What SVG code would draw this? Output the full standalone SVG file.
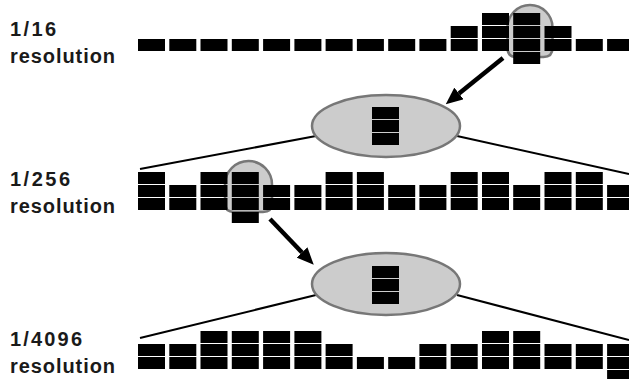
<svg xmlns="http://www.w3.org/2000/svg" width="629" height="379" viewBox="0 0 629 379">
<defs>
<style>
.b{fill:#000}
.lbl{font-family:"Liberation Sans",Arial,sans-serif;font-weight:bold;font-size:20px;fill:#1a1a1a}
.mag{fill:#cccccc;stroke:#777777;stroke-width:2.5}
.thin{stroke:#000;stroke-width:2;fill:none}
.arr{stroke:#000;stroke-width:4.5;fill:none}
</style>
<marker id="ah" markerUnits="userSpaceOnUse" markerWidth="17" markerHeight="15" refX="0" refY="7.5" orient="auto" viewBox="0 0 17 15">
<path d="M0,0 L17,7.5 L0,15 Z" fill="#000"/>
</marker>
</defs>
<rect width="629" height="379" fill="#fff"/>

<g id="labels">
<text class="lbl" x="10" y="36" textLength="46" lengthAdjust="spacing">1/16</text>
<text class="lbl" x="10" y="62.5" textLength="105" lengthAdjust="spacing">resolution</text>
<text class="lbl" x="10" y="186" textLength="60" lengthAdjust="spacing">1/256</text>
<text class="lbl" x="10" y="212.5" textLength="105" lengthAdjust="spacing">resolution</text>
<text class="lbl" x="10" y="346" textLength="72" lengthAdjust="spacing">1/4096</text>
<text class="lbl" x="10" y="372.5" textLength="105" lengthAdjust="spacing">resolution</text>
</g>

<g id="connectors">
<line class="thin" x1="140" y1="169" x2="316" y2="136"/>
<line class="thin" x1="457" y1="136" x2="629" y2="174"/>
<line class="thin" x1="140" y1="338" x2="316" y2="295"/>
<line class="thin" x1="457" y1="295" x2="629" y2="340"/>
<line class="arr" x1="503" y1="58" x2="459" y2="93.5" marker-end="url(#ah)"/>
<line class="arr" x1="270" y1="219" x2="302" y2="252.5" marker-end="url(#ah)"/>
</g>

<g id="row-1-16">
<path class="mag" d="M507.5,27.5 A22.5,22.5 0 0 1 552.5,27.5 L552.5,48 Q552.5,57 543.5,57 L516.5,57 Q507.5,57 507.5,48 Z"/>
<g class="b">
<rect x="138" y="39" width="27" height="12"/>
<rect x="169.3" y="39" width="27" height="12"/>
<rect x="200.5" y="39" width="27" height="12"/>
<rect x="231.8" y="39" width="27" height="12"/>
<rect x="263.1" y="39" width="27" height="12"/>
<rect x="294.4" y="39" width="27" height="12"/>
<rect x="325.6" y="39" width="27" height="12"/>
<rect x="356.9" y="39" width="27" height="12"/>
<rect x="388.2" y="39" width="27" height="12"/>
<rect x="419.4" y="39" width="27" height="12"/>
<rect x="450.7" y="39" width="27" height="12"/>
<rect x="482" y="39" width="27" height="12"/>
<rect x="513.2" y="39" width="27" height="12"/>
<rect x="544.5" y="39" width="27" height="12"/>
<rect x="575.8" y="39" width="27" height="12"/>
<rect x="607.1" y="39" width="27" height="12"/>
<rect x="450.7" y="26" width="27" height="12"/>
<rect x="482" y="26" width="27" height="12"/>
<rect x="513.2" y="26" width="27" height="12"/>
<rect x="544.5" y="26" width="27" height="12"/>
<rect x="482" y="13" width="27" height="12"/>
<rect x="513.2" y="13" width="27" height="12"/>
<rect x="513.2" y="52" width="27" height="12"/>
</g>
</g>

<g id="zoom-1">
<ellipse class="mag" cx="386" cy="126" rx="74" ry="31"/>
<rect class="b" x="372" y="107" width="27" height="12"/>
<rect class="b" x="372" y="120" width="27" height="12"/>
<rect class="b" x="372" y="133" width="27" height="12"/>
</g>

<g id="row-1-256">
<path class="mag" d="M225,184.5 A23.5,23.5 0 0 1 272,184.5 L272,203 Q272,212 263,212 L234,212 Q225,212 225,203 Z"/>
<g class="b">
<rect x="138" y="198" width="27" height="12"/>
<rect x="169.3" y="198" width="27" height="12"/>
<rect x="200.5" y="198" width="27" height="12"/>
<rect x="231.8" y="198" width="27" height="12"/>
<rect x="263.1" y="198" width="27" height="12"/>
<rect x="294.4" y="198" width="27" height="12"/>
<rect x="325.6" y="198" width="27" height="12"/>
<rect x="356.9" y="198" width="27" height="12"/>
<rect x="388.2" y="198" width="27" height="12"/>
<rect x="419.4" y="198" width="27" height="12"/>
<rect x="450.7" y="198" width="27" height="12"/>
<rect x="482" y="198" width="27" height="12"/>
<rect x="513.2" y="198" width="27" height="12"/>
<rect x="544.5" y="198" width="27" height="12"/>
<rect x="575.8" y="198" width="27" height="12"/>
<rect x="607.1" y="198" width="27" height="12"/>
<rect x="138" y="185" width="27" height="12"/>
<rect x="169.3" y="185" width="27" height="12"/>
<rect x="200.5" y="185" width="27" height="12"/>
<rect x="231.8" y="185" width="27" height="12"/>
<rect x="263.1" y="185" width="27" height="12"/>
<rect x="294.4" y="185" width="27" height="12"/>
<rect x="325.6" y="185" width="27" height="12"/>
<rect x="356.9" y="185" width="27" height="12"/>
<rect x="388.2" y="185" width="27" height="12"/>
<rect x="419.4" y="185" width="27" height="12"/>
<rect x="450.7" y="185" width="27" height="12"/>
<rect x="482" y="185" width="27" height="12"/>
<rect x="513.2" y="185" width="27" height="12"/>
<rect x="544.5" y="185" width="27" height="12"/>
<rect x="575.8" y="185" width="27" height="12"/>
<rect x="607.1" y="185" width="27" height="12"/>
<rect x="138" y="172" width="27" height="12"/>
<rect x="200.5" y="172" width="27" height="12"/>
<rect x="231.8" y="172" width="27" height="12"/>
<rect x="325.6" y="172" width="27" height="12"/>
<rect x="356.9" y="172" width="27" height="12"/>
<rect x="450.7" y="172" width="27" height="12"/>
<rect x="482" y="172" width="27" height="12"/>
<rect x="544.5" y="172" width="27" height="12"/>
<rect x="575.8" y="172" width="27" height="12"/>
<rect x="231.8" y="212" width="27" height="11"/>
</g>
</g>

<g id="zoom-2">
<ellipse class="mag" cx="386" cy="284" rx="74" ry="31"/>
<rect class="b" x="372" y="266" width="27" height="12"/>
<rect class="b" x="372" y="279" width="27" height="12"/>
<rect class="b" x="372" y="292" width="27" height="12"/>
</g>

<g id="row-1-4096">
<g class="b">
<rect x="138" y="357" width="27" height="12"/>
<rect x="169.3" y="357" width="27" height="12"/>
<rect x="200.5" y="357" width="27" height="12"/>
<rect x="231.8" y="357" width="27" height="12"/>
<rect x="263.1" y="357" width="27" height="12"/>
<rect x="294.4" y="357" width="27" height="12"/>
<rect x="325.6" y="357" width="27" height="12"/>
<rect x="356.9" y="357" width="27" height="12"/>
<rect x="388.2" y="357" width="27" height="12"/>
<rect x="419.4" y="357" width="27" height="12"/>
<rect x="450.7" y="357" width="27" height="12"/>
<rect x="482" y="357" width="27" height="12"/>
<rect x="513.2" y="357" width="27" height="12"/>
<rect x="544.5" y="357" width="27" height="12"/>
<rect x="575.8" y="357" width="27" height="12"/>
<rect x="607.1" y="357" width="27" height="12"/>
<rect x="138" y="344" width="27" height="12"/>
<rect x="169.3" y="344" width="27" height="12"/>
<rect x="200.5" y="344" width="27" height="12"/>
<rect x="231.8" y="344" width="27" height="12"/>
<rect x="263.1" y="344" width="27" height="12"/>
<rect x="294.4" y="344" width="27" height="12"/>
<rect x="325.6" y="344" width="27" height="12"/>
<rect x="419.4" y="344" width="27" height="12"/>
<rect x="450.7" y="344" width="27" height="12"/>
<rect x="482" y="344" width="27" height="12"/>
<rect x="513.2" y="344" width="27" height="12"/>
<rect x="544.5" y="344" width="27" height="12"/>
<rect x="575.8" y="344" width="27" height="12"/>
<rect x="607.1" y="344" width="27" height="12"/>
<rect x="200.5" y="331" width="27" height="12"/>
<rect x="231.8" y="331" width="27" height="12"/>
<rect x="263.1" y="331" width="27" height="12"/>
<rect x="294.4" y="331" width="27" height="12"/>
<rect x="482" y="331" width="27" height="12"/>
<rect x="513.2" y="331" width="27" height="12"/>
<rect x="607.1" y="370" width="27" height="9"/>
</g>
</g>
</svg>
